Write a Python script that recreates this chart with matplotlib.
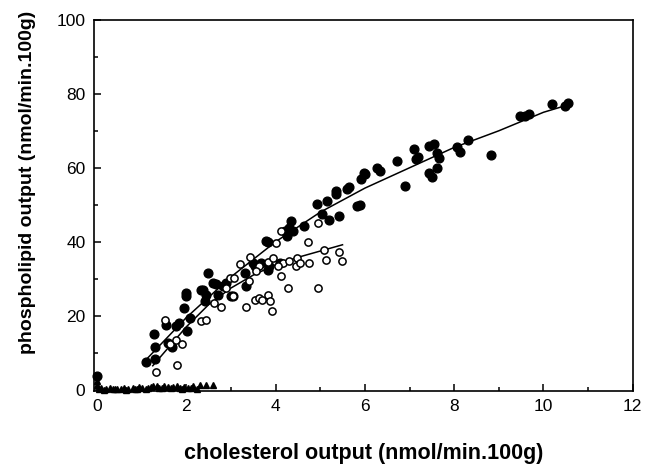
import matplotlib
matplotlib.use('Agg')
import matplotlib.pyplot as plt
from matplotlib.ticker import MultipleLocator

plt.rcParams['font.family'] = ['Liberation Sans', 'DejaVu Sans']

# filled circles
filled_x = [0.0, 1.09, 1.31, 1.29, 1.27, 1.54, 1.6, 1.69, 1.78, 1.83, 2.02, 1.99, 1.99, 1.96, 2.08,
            2.37, 2.41, 2.45, 2.48, 2.6, 2.7, 2.82, 3.0, 3.32, 3.34, 3.49, 3.68, 3.82, 3.86, 3.82,
            4.1, 4.22, 4.25, 4.3, 4.35, 4.4, 4.64, 4.93, 5.05, 5.16, 5.2, 5.35, 5.36, 5.42, 5.59,
            5.65, 5.83, 5.9, 5.91, 5.98, 6.0, 6.28, 6.35, 6.73, 6.91, 7.1, 7.15, 7.2, 7.43, 7.54,
            7.62, 7.65, 7.62, 7.43, 7.5, 8.07, 8.13, 8.31, 8.83, 9.48, 9.58, 9.67, 10.19, 10.48, 10.56,
            2.34, 2.67, 2.89, 3.04, 3.79, 3.53]
filled_y = [3.6, 7.5, 8.3, 11.6, 15.0, 17.6, 12.7, 11.6, 17.2, 18.1, 15.8, 26.2, 25.3, 22.1, 19.4,
            27.1, 23.9, 25.6, 31.6, 28.9, 25.6, 28.0, 25.3, 31.6, 28.0, 34.3, 34.3, 39.9, 33.4, 32.5,
            34.3, 42.9, 41.7, 43.8, 45.6, 43.0, 44.4, 50.3, 47.4, 51.0, 46.0, 53.8, 52.8, 47.0, 54.4,
            54.7, 49.7, 50.0, 56.9, 58.7, 58.4, 60.0, 59.0, 61.9, 55.1, 65.0, 62.5, 63.0, 65.8, 66.4,
            64.1, 62.6, 60.0, 58.7, 57.4, 65.5, 64.3, 67.6, 63.4, 73.9, 73.9, 74.5, 77.2, 76.8, 77.5,
            27.1, 28.5, 29.0, 25.3, 40.2, 33.4]

# open circles
open_x = [1.32, 1.79, 1.52, 1.63, 1.78, 1.91, 2.32, 2.44, 2.78, 2.97, 3.04, 3.08, 3.21, 3.34, 3.4,
          3.42, 3.53, 3.64, 3.7, 3.82, 3.87, 3.91, 3.64, 3.82, 4.0, 4.12, 4.12, 4.16, 4.27, 4.3,
          4.45, 4.48, 4.55, 4.72, 4.74, 4.94, 4.94, 5.09, 5.14, 5.42, 5.48, 2.62, 2.9, 3.57, 4.05, 3.95]
open_y = [4.8, 6.8, 18.8, 12.5, 13.5, 12.5, 18.5, 18.8, 22.4, 30.3, 25.3, 30.3, 34.1, 22.4, 29.4,
          36.0, 24.4, 24.7, 24.4, 25.7, 24.1, 21.4, 33.4, 34.6, 39.7, 30.7, 42.9, 34.3, 27.5, 34.8,
          33.4, 35.5, 34.3, 39.9, 34.3, 27.4, 45.0, 37.9, 35.0, 37.2, 34.7, 23.5, 27.5, 32.0, 33.5, 35.5]

# triangles near zero
tri_x = [0.0, 0.0, 0.05, 0.1, 0.2, 0.3, 0.35, 0.45, 0.55, 0.6, 0.7, 0.8, 0.85, 0.95, 1.0, 1.1,
         1.2, 1.25, 1.35, 1.45, 1.5, 1.6, 1.7, 1.8, 1.85, 1.95, 2.05, 2.15, 2.3, 2.45, 2.6,
         0.15, 0.4, 0.65, 0.9, 1.15, 1.4, 1.65, 1.9, 2.1, 2.25]
tri_y = [1.2, 2.3, 0.2, 0.4, 0.1, 0.5, 0.2, 0.3, 0.1, 0.6, 0.3, 0.5, 0.2, 0.7, 0.4, 0.2,
         0.8, 0.9, 1.0, 0.6, 0.9, 0.8, 0.7, 0.9, 0.5, 0.8, 0.4, 1.0, 1.2, 1.2, 1.3,
         0.0, 0.1, 0.0, 0.2, 0.5, 0.4, 0.6, 0.3, 0.5, 0.2]

# fitted curves
curve1_x = [1.05, 2.0, 3.0, 4.0, 5.0, 6.0, 7.0, 8.0, 9.0, 10.0, 10.55]
curve1_y = [7.5, 19.5, 30.5, 40.0, 48.0, 54.5, 60.0, 65.5, 70.0, 75.0, 77.0]
curve2_x = [1.25, 2.0, 2.5, 3.0, 3.5, 4.0, 4.5, 5.0, 5.5]
curve2_y = [6.5, 17.0, 23.0, 27.5, 31.0, 33.8, 35.8, 37.5, 39.2]

fig = plt.figure(figsize=(6.47, 4.71), dpi=100)
ax = fig.add_axes([0.145, 0.170, 0.833, 0.788])

ax.plot(curve1_x, curve1_y, 'k-', lw=1.1)
ax.plot(curve2_x, curve2_y, 'k-', lw=1.1)
ax.plot(filled_x, filled_y, 'o', color='black', ms=6.3, clip_on=False)
ax.plot(open_x, open_y, 'o', mfc='white', mec='black', mew=1.1, ms=5.2, clip_on=False)
ax.plot(tri_x, tri_y, '^', color='black', ms=4.8, clip_on=False)

ax.set_xlim(-0.07, 12)
ax.set_ylim(-0.3, 100)
ax.set_xticks([0, 2, 4, 6, 8, 10, 12])
ax.set_yticks([0, 20, 40, 60, 80, 100])
ax.xaxis.set_minor_locator(MultipleLocator(1))
ax.yaxis.set_minor_locator(MultipleLocator(10))
ax.tick_params(which='both', direction='in', top=False, right=False, labelsize=12.5, width=1.1)
ax.tick_params(which='major', length=5, pad=6)
ax.tick_params(which='minor', length=3)
for s in ax.spines.values():
    s.set_linewidth(1.2)

ax.set_xlabel('cholesterol output (nmol/min.100g)', fontsize=15.5, fontweight='bold', labelpad=21)
ax.set_ylabel('phospholipid output (nmol/min.100g)', fontsize=14, fontweight='bold')
# ylabel sits a bit above the middle in the original
ax.yaxis.set_label_coords(-0.108, 0.563)

plt.savefig('out.png', dpi=100)
